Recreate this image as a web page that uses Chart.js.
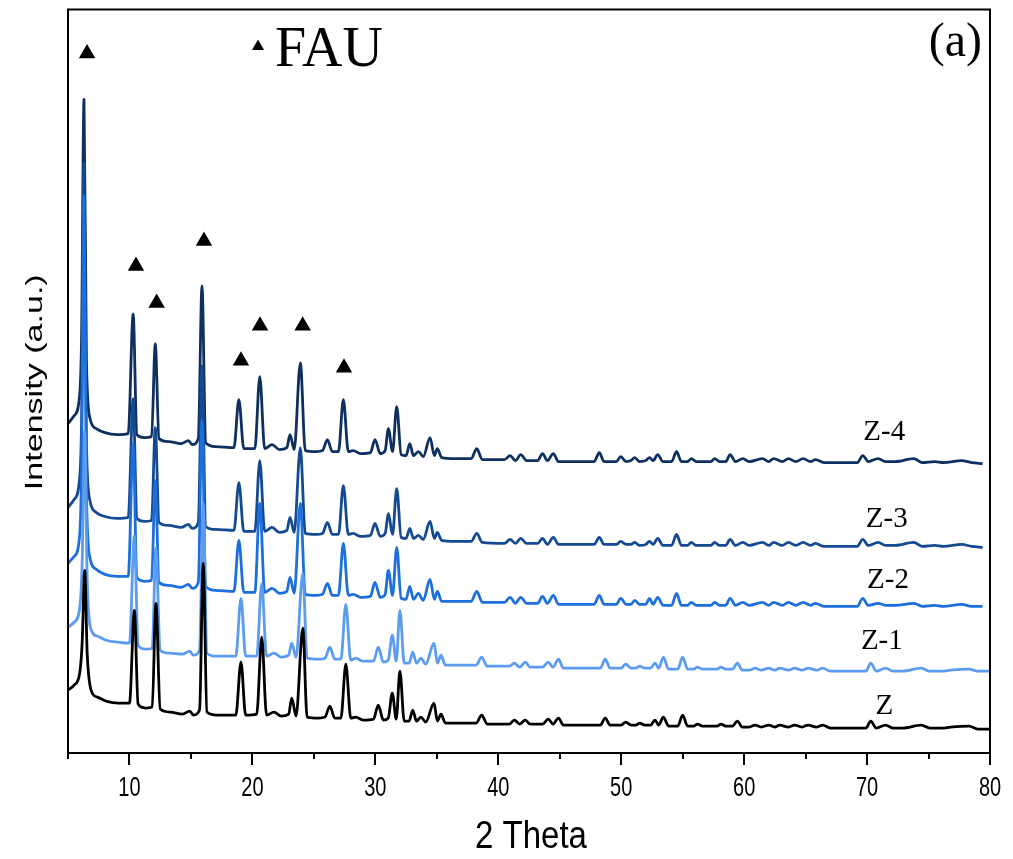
<!DOCTYPE html>
<html><head><meta charset="utf-8">
<script src="https://cdn.jsdelivr.net/npm/chart.js@4.4.0/dist/chart.umd.min.js"></script>
<style>html,body{margin:0;padding:0;background:#fff;}#wrap{width:1013px;height:859px;}</style>
</head><body><div id="wrap"><canvas id="c" width="1013" height="859"></canvas></div>
<script>
// ---- data: [2theta, intensity (a.u., stacked as plotted)] ----
const seriesNames = ['Z', 'Z-1', 'Z-2', 'Z-3', 'Z-4'];
const seriesColors = ['#000000', '#5b9cf0', '#1c6fdd', '#144a92', '#0d3060'];

const zZ4 = [[5.0,330],[5.5,338],[5.9,353],[6.1,413],[6.3,655],[6.5,393],[6.8,335],[7.3,325],[8.0,321],[9.0,319],[9.9,320],[10.3,440],[10.6,319],[11.2,316],[11.8,317],[12.1,410],[12.4,315],[13.2,312],[14.2,310],[14.8,313],[15.1,309],[15.6,315],[15.9,468],[16.2,311],[17.0,307],[18.5,306],[18.9,354],[19.3,305],[20.2,305],[20.6,377],[21.0,305],[21.6,309],[22.2,304],[22.8,306],[23.06,319],[23.4,304],[23.9,391],[24.3,303],[25.2,302],[25.7,303],[26.1,314],[26.5,302],[27.0,302],[27.4,354],[27.8,302],[28.2,303],[28.8,300],[29.6,301],[29.97,314],[30.4,300],[30.8,303],[31.06,325],[31.4,302],[31.74,347],[32.1,299],[32.5,298],[32.8,310],[33.1,298],[33.5,302],[33.9,297],[34.45,316],[34.8,298],[35.04,305],[35.4,296],[36.5,295],[37.8,295],[38.25,305],[38.7,294],[40.5,294],[40.96,298],[41.4,293],[41.83,299],[42.3,293],[43.2,293],[43.6,300],[44.0,293],[44.48,300],[44.9,292],[47.8,292],[48.22,301],[48.6,292],[49.6,292],[49.96,297],[50.4,292],[50.8,293],[51.1,296],[51.5,292],[52.0,293],[52.3,296],[52.6,293],[52.97,299],[53.4,292],[54.1,292],[54.5,302],[54.9,292],[55.4,292],[55.7,295],[56.1,292],[57.3,292],[57.6,295],[58.0,292],[58.5,292],[58.86,299],[59.3,292],[59.9,295],[60.4,292],[61.5,295],[62.0,292],[62.4,295],[63.1,292],[63.6,295],[64.2,292],[64.8,295],[65.4,292],[65.8,294],[66.5,291],[69.2,291],[69.65,298],[70.1,292],[70.9,295],[71.5,292],[72.3,292],[73.8,295],[74.5,291],[75.5,292],[76.2,291],[77.7,293],[78.5,291],[79.4,290]];

const zZ3 = [[5.0,246],[5.5,254],[5.9,270],[6.1,330],[6.3,591],[6.5,310],[6.8,252],[7.3,241],[8.0,237],[9.0,235],[9.9,236],[10.3,355],[10.6,235],[11.2,232],[11.8,233],[12.1,326],[12.4,231],[13.2,228],[14.2,226],[14.8,229],[15.1,225],[15.6,231],[15.9,388],[16.2,227],[17.0,224],[18.5,223],[18.9,271],[19.3,222],[20.2,222],[20.6,293],[21.0,222],[21.6,226],[22.2,221],[22.8,223],[23.06,236],[23.4,221],[23.9,306],[24.3,220],[25.2,219],[25.7,220],[26.1,231],[26.5,219],[27.0,219],[27.4,268],[27.8,219],[28.2,220],[28.8,217],[29.6,218],[29.97,230],[30.4,217],[30.8,220],[31.06,240],[31.4,219],[31.74,265],[32.1,216],[32.5,215],[32.8,225],[33.1,215],[33.5,218],[33.9,214],[34.45,232],[34.8,215],[35.04,221],[35.4,213],[36.5,212],[37.8,212],[38.25,220],[38.7,211],[40.5,210],[40.96,214],[41.4,210],[41.83,215],[42.3,210],[43.2,210],[43.6,215],[44.0,209],[44.48,216],[44.9,209],[47.8,209],[48.22,216],[48.6,209],[49.6,209],[49.96,212],[50.4,209],[50.8,209],[51.1,211],[51.5,208],[52.0,209],[52.3,212],[52.6,209],[52.97,215],[53.4,208],[54.1,208],[54.5,219],[54.9,208],[55.4,208],[55.7,211],[56.1,208],[57.3,208],[57.6,211],[58.0,208],[58.5,208],[58.86,214],[59.3,208],[59.9,211],[60.4,208],[61.5,211],[62.0,208],[62.4,211],[63.1,208],[63.6,211],[64.2,208],[64.8,211],[65.4,208],[65.8,210],[66.5,207],[69.2,207],[69.65,214],[70.1,208],[70.9,211],[71.5,208],[72.3,208],[73.8,211],[74.5,207],[75.5,208],[76.2,207],[77.7,209],[78.5,207],[79.4,206]];

const zZ2 = [[5.0,190],[5.5,197],[5.9,212],[6.1,280],[6.3,558],[6.5,260],[6.8,195],[7.3,184],[8.0,179],[9.0,177],[9.9,177],[10.3,310],[10.6,176],[11.2,172],[11.8,173],[12.1,273],[12.4,171],[13.2,168],[14.2,166],[14.8,169],[15.1,165],[15.6,171],[15.9,333],[16.2,167],[17.0,163],[18.5,162],[18.9,213],[19.3,161],[20.2,161],[20.6,250],[21.0,161],[21.6,165],[22.2,160],[22.8,162],[23.06,176],[23.4,160],[23.9,250],[24.3,159],[25.2,158],[25.7,159],[26.1,170],[26.5,158],[27.0,158],[27.4,210],[27.8,158],[28.2,159],[28.8,156],[29.6,157],[29.97,171],[30.4,156],[30.8,159],[31.06,183],[31.4,158],[31.74,206],[32.1,155],[32.5,154],[32.8,167],[33.1,154],[33.5,160],[33.9,153],[34.45,174],[34.8,154],[35.04,162],[35.4,152],[36.5,152],[37.8,152],[38.25,162],[38.7,151],[40.5,151],[40.96,156],[41.4,150],[41.83,156],[42.3,150],[43.2,150],[43.6,157],[44.0,150],[44.48,158],[44.9,149],[47.8,149],[48.22,158],[48.6,149],[49.6,149],[49.96,155],[50.4,149],[50.8,149],[51.1,153],[51.5,149],[52.0,149],[52.3,155],[52.6,149],[52.97,156],[53.4,148],[54.1,148],[54.5,160],[54.9,148],[55.4,148],[55.7,151],[56.1,148],[57.3,148],[57.6,151],[58.0,148],[58.5,148],[58.86,155],[59.3,148],[59.9,151],[60.4,148],[61.5,151],[62.0,148],[62.4,151],[63.1,148],[63.6,151],[64.2,148],[64.8,151],[65.4,148],[65.8,150],[66.5,147],[69.2,147],[69.65,155],[70.1,148],[70.9,150],[71.5,148],[72.3,148],[73.8,150],[74.5,147],[75.5,148],[76.2,147],[77.7,149],[78.5,147],[79.4,147]];

const zZ1 = [[5.0,126],[5.5,131],[5.95,145],[6.15,190],[6.36,323],[6.56,175],[6.9,123],[7.4,117],[8.1,113],[9.1,111],[10.0,110],[10.4,218],[10.7,108],[11.3,104],[11.85,105],[12.15,205],[12.5,103],[13.3,100],[14.3,99],[14.9,102],[15.2,98],[15.7,103],[16.0,250],[16.3,100],[17.1,97],[18.65,97],[19.07,155],[19.45,97],[20.35,97],[20.76,170],[21.15,97],[21.75,100],[22.35,96],[22.95,98],[23.2,110],[23.55,96],[24.1,180],[24.45,95],[25.4,94],[25.9,95],[26.3,106],[26.7,94],[27.2,94],[27.6,149],[28.0,93],[28.4,95],[29.0,92],[29.85,92],[30.24,106],[30.65,91],[31.05,93],[31.38,118],[31.7,92],[32.0,143],[32.35,90],[32.75,90],[33.04,101],[33.35,90],[33.7,95],[34.1,89],[34.77,110],[35.05,90],[35.34,98],[35.7,88],[36.8,88],[38.2,88],[38.65,96],[39.1,87],[40.9,87],[41.3,90],[41.75,86],[42.2,91],[42.6,86],[43.6,86],[44.07,91],[44.45,86],[44.9,94],[45.3,85],[48.3,85],[48.7,94],[49.1,85],[50.0,85],[50.37,89],[50.8,85],[51.2,85],[51.5,87],[51.9,85],[52.4,85],[52.75,90],[53.05,85],[53.43,96],[53.85,84],[54.6,84],[55.0,96],[55.4,84],[55.9,84],[56.2,86],[56.6,84],[57.8,84],[58.1,86],[58.5,84],[59.05,84],[59.45,90],[59.85,83],[60.4,83],[60.9,85],[61.4,83],[62.0,85],[62.5,83],[62.9,85],[63.6,83],[64.1,85],[64.7,83],[65.2,85],[65.9,83],[66.4,85],[67.0,82],[69.9,82],[70.3,90],[70.75,82],[71.5,85],[72.1,82],[72.9,82],[74.4,85],[75.1,82],[76.1,82],[76.8,83],[78.3,84],[79.0,82],[80.0,82]];

const zZ0 = [[5.0,63],[5.5,68],[5.95,80],[6.15,110],[6.36,183],[6.56,100],[6.9,62],[7.4,56],[8.1,52],[9.1,50],[10.0,50],[10.4,143],[10.7,49],[11.3,45],[11.85,46],[12.15,150],[12.5,44],[13.3,41],[14.3,39],[14.9,42],[15.2,38],[15.7,43],[16.0,190],[16.3,41],[17.1,38],[18.65,38],[19.07,91],[19.45,38],[20.35,39],[20.76,116],[21.15,38],[21.75,41],[22.35,37],[22.95,39],[23.2,55],[23.55,37],[24.1,125],[24.45,36],[25.4,35],[25.9,36],[26.3,47],[26.7,35],[27.2,35],[27.6,89],[28.0,35],[28.4,36],[29.0,33],[29.85,34],[30.24,48],[30.65,33],[31.05,35],[31.38,60],[31.7,34],[32.0,82],[32.35,32],[32.75,32],[33.04,43],[33.35,32],[33.7,36],[34.1,31],[34.77,50],[35.05,32],[35.34,39],[35.7,30],[36.8,30],[38.2,30],[38.65,38],[39.1,29],[40.9,29],[41.3,33],[41.75,29],[42.2,33],[42.6,29],[43.6,29],[44.07,34],[44.45,29],[44.9,35],[45.3,28],[48.3,28],[48.7,35],[49.1,28],[50.0,28],[50.37,31],[50.8,28],[51.2,28],[51.5,30],[51.9,28],[52.4,28],[52.75,33],[53.05,28],[53.43,36],[53.85,27],[54.6,27],[55.0,38],[55.4,27],[55.9,27],[56.2,29],[56.6,27],[57.8,27],[58.1,29],[58.5,27],[59.05,27],[59.45,32],[59.85,26],[60.4,26],[60.9,28],[61.4,26],[62.0,28],[62.5,26],[62.9,28],[63.6,26],[64.1,28],[64.7,26],[65.2,28],[65.9,26],[66.4,28],[67.0,25],[69.9,25],[70.3,32],[70.75,25],[71.5,28],[72.1,25],[72.9,25],[74.4,28],[75.1,25],[76.1,25],[76.8,26],[78.3,27],[79.0,24],[80.0,24]];

const seriesData = [zZ0, zZ1, zZ2, zZ3, zZ4];

// FAU reflection markers and legend marker (2theta, a.u.)
const fauMarks = [[6.55,701],[10.53,488],[12.21,451],[16.06,513],[19.07,393],[20.62,428],[24.09,428],[27.45,386]];
const fauLegendMark = [[20.46,708]];
// series label anchors (2theta, a.u.)
const labelAnchors = [[71.4,47],[71.2,112],[71.7,173],[71.6,234],[71.4,321]];

const xMajorTicks = [10,20,30,40,50,60,70,80];
const xMinorTicks = [5,15,25,35,45,55,65,75];

const sans = '"Liberation Sans", Arial, sans-serif';
const serif = '"Liberation Serif", "Times New Roman", serif';

const decor = {
  id: 'decor',
  afterDraw(chart) {
    const ctx = chart.ctx, a = chart.chartArea;
    const xs = chart.scales.x, ys = chart.scales.y;
    ctx.save();
    ctx.strokeStyle = '#000'; ctx.lineWidth = 2;
    ctx.strokeRect(a.left, a.top, a.right - a.left, a.bottom - a.top);
    ctx.beginPath();
    xMajorTicks.forEach(v => { const p = Math.round(xs.getPixelForValue(v)); ctx.moveTo(p, a.bottom); ctx.lineTo(p, a.bottom + 12); });
    xMinorTicks.forEach(v => { const p = Math.round(xs.getPixelForValue(v)); ctx.moveTo(p, a.bottom); ctx.lineTo(p, a.bottom + 6); });
    ctx.stroke();
    ctx.fillStyle = '#000';
    ctx.textAlign = 'center'; ctx.textBaseline = 'alphabetic';
    ctx.font = '20px ' + sans;
    xMajorTicks.forEach(v => {
      const p = xs.getPixelForValue(v);
      ctx.save(); ctx.translate(p, a.bottom + 43); ctx.scale(1, 1.4); ctx.fillText(String(v), 0, 0); ctx.restore();
    });
    ctx.save(); ctx.translate((a.left + a.right) / 2 + 2, a.bottom + 95); ctx.scale(1, 1.2);
    ctx.font = '33px ' + sans; ctx.fillText('2 Theta', 0, 0); ctx.restore();
    ctx.save(); ctx.translate(42, (a.top + a.bottom) / 2 + 1); ctx.rotate(-Math.PI / 2); ctx.scale(1.42, 1);
    ctx.textBaseline = 'alphabetic'; ctx.font = '24px ' + sans; ctx.fillText('Intensity (a.u.)', 0, 0); ctx.restore();
    ctx.font = '29px ' + serif; ctx.textBaseline = 'middle';
    seriesNames.forEach((n, i) => {
      const [lx, ly] = labelAnchors[i];
      ctx.fillText(n, xs.getPixelForValue(lx), ys.getPixelForValue(ly));
    });
    ctx.textAlign = 'left'; ctx.textBaseline = 'alphabetic';
    ctx.font = '56px ' + serif;
    ctx.fillText('FAU', xs.getPixelForValue(21.84), ys.getPixelForValue(688));
    ctx.textAlign = 'right';
    ctx.font = '48px ' + serif;
    ctx.fillText('(a)', a.right - 8, a.top + 46);
    ctx.restore();
  }
};

const datasets = seriesData.map((d, i) => ({
  label: seriesNames[i],
  data: d.map(p => ({ x: p[0], y: p[1] })),
  borderColor: seriesColors[i],
  borderWidth: 2.8,
  pointRadius: 0,
  cubicInterpolationMode: 'monotone',
  borderJoinStyle: 'round',
  fill: false,
  order: i + 2
}));
datasets.unshift({
  type: 'scatter', label: 'FAU', data: fauMarks.map(p => ({ x: p[0], y: p[1] })),
  pointStyle: 'triangle', pointRadius: 9.5, backgroundColor: '#000', borderColor: '#000', borderWidth: 0, order: 0
}, {
  type: 'scatter', label: 'FAU legend', data: fauLegendMark.map(p => ({ x: p[0], y: p[1] })),
  pointStyle: 'triangle', pointRadius: 7, backgroundColor: '#000', borderColor: '#000', borderWidth: 0, order: 1
});

new Chart(document.getElementById('c'), {
  type: 'line',
  data: { datasets },
  options: {
    responsive: false, animation: false, events: [],
    layout: { padding: { left: 68, right: 23, top: 8, bottom: 106 } },
    plugins: { legend: { display: false }, tooltip: { enabled: false } },
    scales: {
      x: { type: 'linear', min: 5, max: 80, display: false },
      y: { type: 'linear', min: 0, max: 745, display: false }
    }
  },
  plugins: [decor]
});
</script></body></html>
